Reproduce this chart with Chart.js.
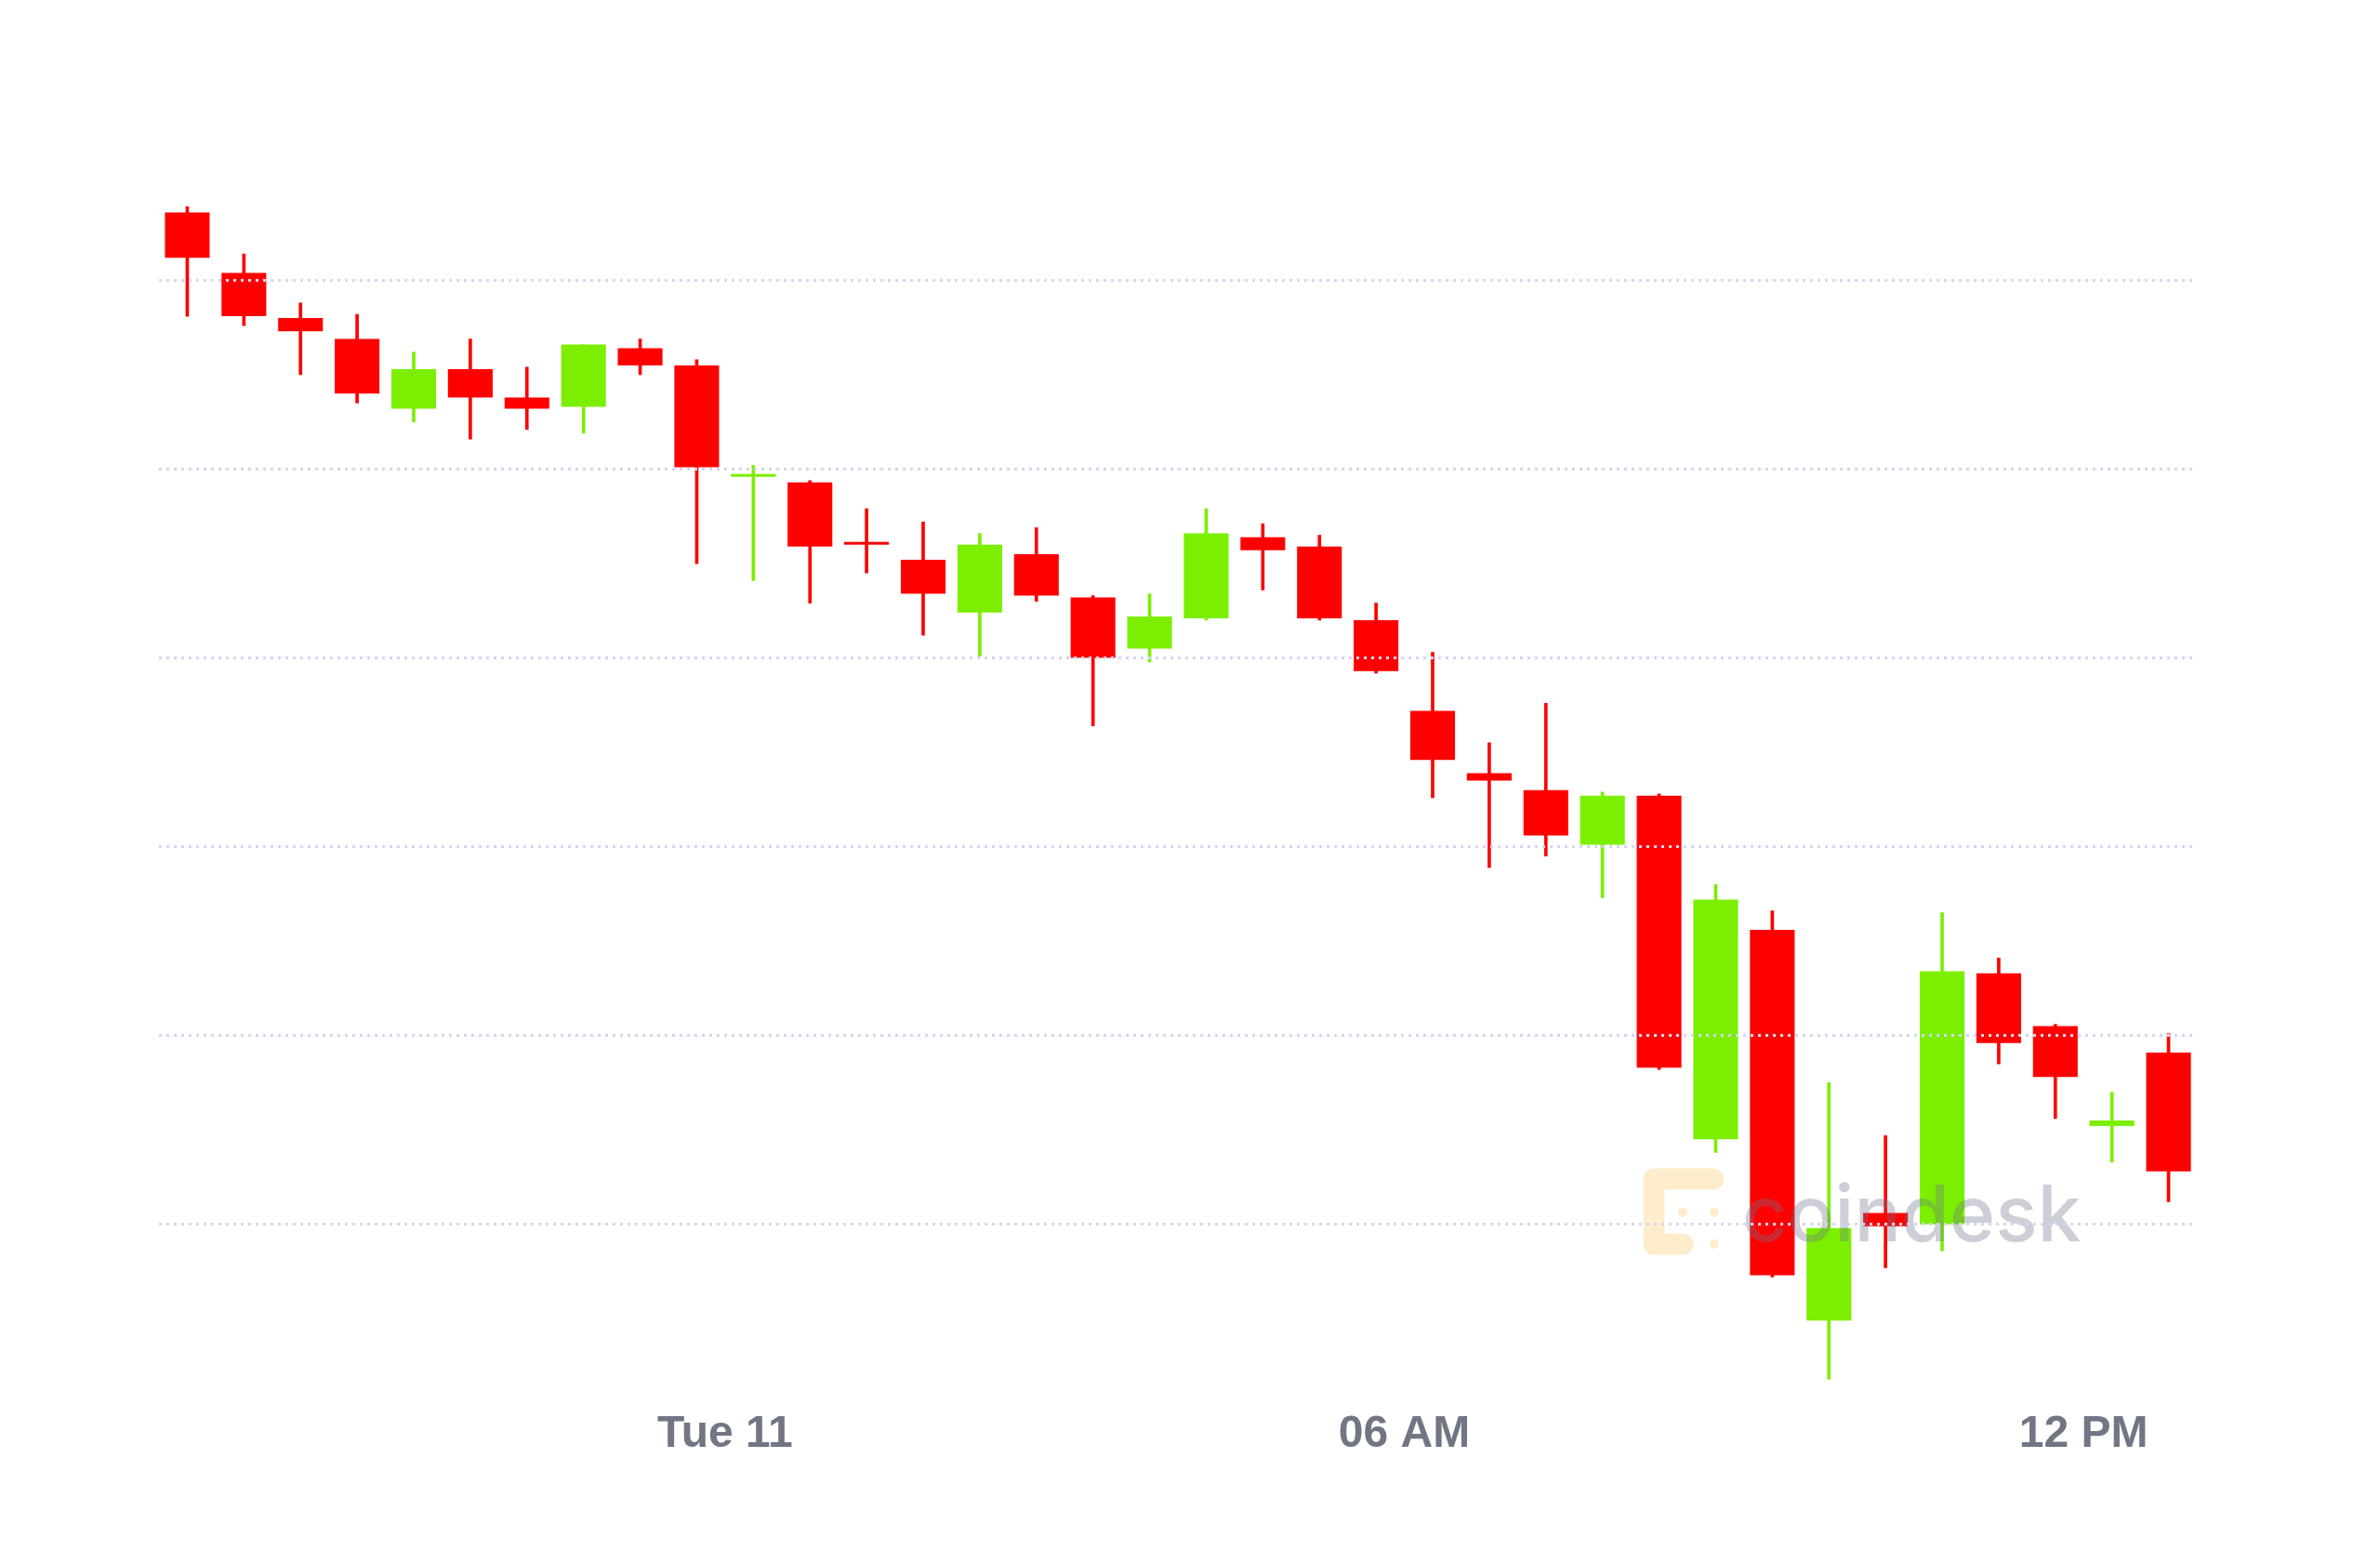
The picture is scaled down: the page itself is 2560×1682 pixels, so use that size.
<!DOCTYPE html>
<html>
<head>
<meta charset="utf-8">
<script src="https://cdn.jsdelivr.net/npm/chart.js@4/dist/chart.umd.min.js"></script>
<style>
  html, body { margin: 0; padding: 0; background: #fff; }
  #wrap { width: 2560px; height: 1682px; position: relative; }
</style>
</head>
<body>
<div id="wrap"><canvas id="candleChart"></canvas></div>
<script>
// 30-minute candles, BTC/USD
const opens  = [11836, 11804, 11780, 11769, 11732, 11753, 11738, 11733, 11764, 11755,
                11696, 11693, 11661, 11652, 11624, 11655, 11632, 11605, 11621, 11664,
                11659, 11620, 11572, 11539, 11530, 11501, 11527, 11345, 11456, 11249,
                11306, 11300, 11433, 11405, 11352, 11391];
const highs  = [11839, 11814, 11788, 11782, 11762, 11769, 11754, 11766, 11769, 11758,
                11702, 11694, 11679, 11672, 11666, 11669, 11633, 11634, 11679, 11671,
                11665, 11629, 11603, 11555, 11576, 11529, 11528, 11480, 11466, 11375,
                11347, 11465, 11441, 11406, 11370, 11401];
const lows   = [11781, 11776, 11750, 11735, 11725, 11716, 11721, 11719, 11750, 11650,
                11641, 11629, 11645, 11612, 11601, 11630, 11564, 11598, 11620, 11636,
                11620, 11592, 11526, 11489, 11495, 11473, 11382, 11338, 11272, 11218,
                11277, 11286, 11385, 11356, 11333, 11312];
const closes = [11812, 11781, 11773, 11740, 11753, 11738, 11732, 11766, 11755, 11701,
                11697, 11659, 11660, 11634, 11660, 11633, 11600, 11622, 11666, 11657,
                11621, 11593, 11546, 11535, 11506, 11527, 11383, 11472, 11273, 11298,
                11299, 11434, 11396, 11378, 11355, 11328];

const tickPositions = [9.5, 21.5, 33.5];
const tickLabels = ["Tue 11", "06 AM", "12 PM"];
const gridValues = [11300, 11400, 11500, 11600, 11700, 11800];

const UP = "#7cef00";
const DOWN = "#ff0000";

const colors = opens.map((o, i) => closes[i] >= o ? UP : DOWN);
const bodies = opens.map((o, i) => ({ x: i, y: [o, closes[i]] }));
const wicks = lows.map((l, i) => ({ x: i, y: [l, highs[i]] }));

// faded logo in the lower right, drawn over the candles
const watermark = {
    id: "watermark",
    afterDatasetsDraw(chart) {
        const ctx = chart.ctx;
        ctx.save();
        ctx.strokeStyle = "rgba(247,166,0,0.2)";
        ctx.fillStyle = "rgba(247,166,0,0.2)";
        ctx.lineWidth = 23;
        ctx.lineCap = "round";
        ctx.lineJoin = "round";
        ctx.beginPath();
        ctx.moveTo(1843, 1268);
        ctx.lineTo(1779, 1268);
        ctx.lineTo(1779, 1338);
        ctx.lineTo(1810, 1338);
        ctx.stroke();
        [[1810, 1304], [1844, 1304], [1844, 1338]].forEach(([x, y]) => {
            ctx.beginPath();
            ctx.arc(x, y, 5, 0, Math.PI * 2);
            ctx.fill();
        });
        ctx.font = "500 84px Inter, 'Liberation Sans', sans-serif";
        ctx.fillStyle = "rgba(108,114,140,0.34)";
        ctx.textBaseline = "alphabetic";
        ctx.fillText("coindesk", 1874, 1335);
        ctx.restore();
    }
};

const ctx = document.getElementById("candleChart").getContext("2d");
new Chart(ctx, {
    type: "bar",
    data: {
        datasets: [{
            label: "Body",
            data: bodies,
            backgroundColor: colors,
            borderWidth: 0,
            grouped: false,
            barPercentage: 0.79,
            categoryPercentage: 1,
            minBarLength: 3
        }, {
            label: "Wick",
            data: wicks,
            backgroundColor: colors,
            borderWidth: 0,
            grouped: false,
            barThickness: 3
        }]
    },
    options: {
        responsive: true,
        maintainAspectRatio: false,
        animation: false,
        devicePixelRatio: 1,
        layout: { padding: { left: 171, right: 197, top: 200, bottom: 95 } },
        plugins: {
            legend: { display: false },
            tooltip: { enabled: false }
        },
        scales: {
            x: {
                type: "linear",
                offset: false,
                min: -0.5,
                max: 35.5,
                grid: { display: false, drawTicks: false, offset: false },
                border: { display: false },
                afterBuildTicks: axis => {
                    axis.ticks = tickPositions.map(v => ({ value: v }));
                },
                ticks: {
                    autoSkip: false,
                    maxRotation: 0,
                    padding: 15,
                    color: "#717684",
                    font: { family: "'Liberation Sans', Arial, sans-serif", size: 48, weight: "bold" },
                    callback: (val, idx) => tickLabels[idx]
                }
            },
            y: {
                min: 11210,
                max: 11850,
                afterBuildTicks: axis => {
                    axis.ticks = gridValues.map(v => ({ value: v }));
                },
                grid: {
                    color: "#d4d6f0",
                    lineWidth: 3,
                    drawTicks: false,
                    z: 1
                },
                border: { display: false, dash: [3, 5] },
                ticks: { display: false }
            }
        }
    },
    plugins: [watermark]
});
</script>
</body>
</html>
